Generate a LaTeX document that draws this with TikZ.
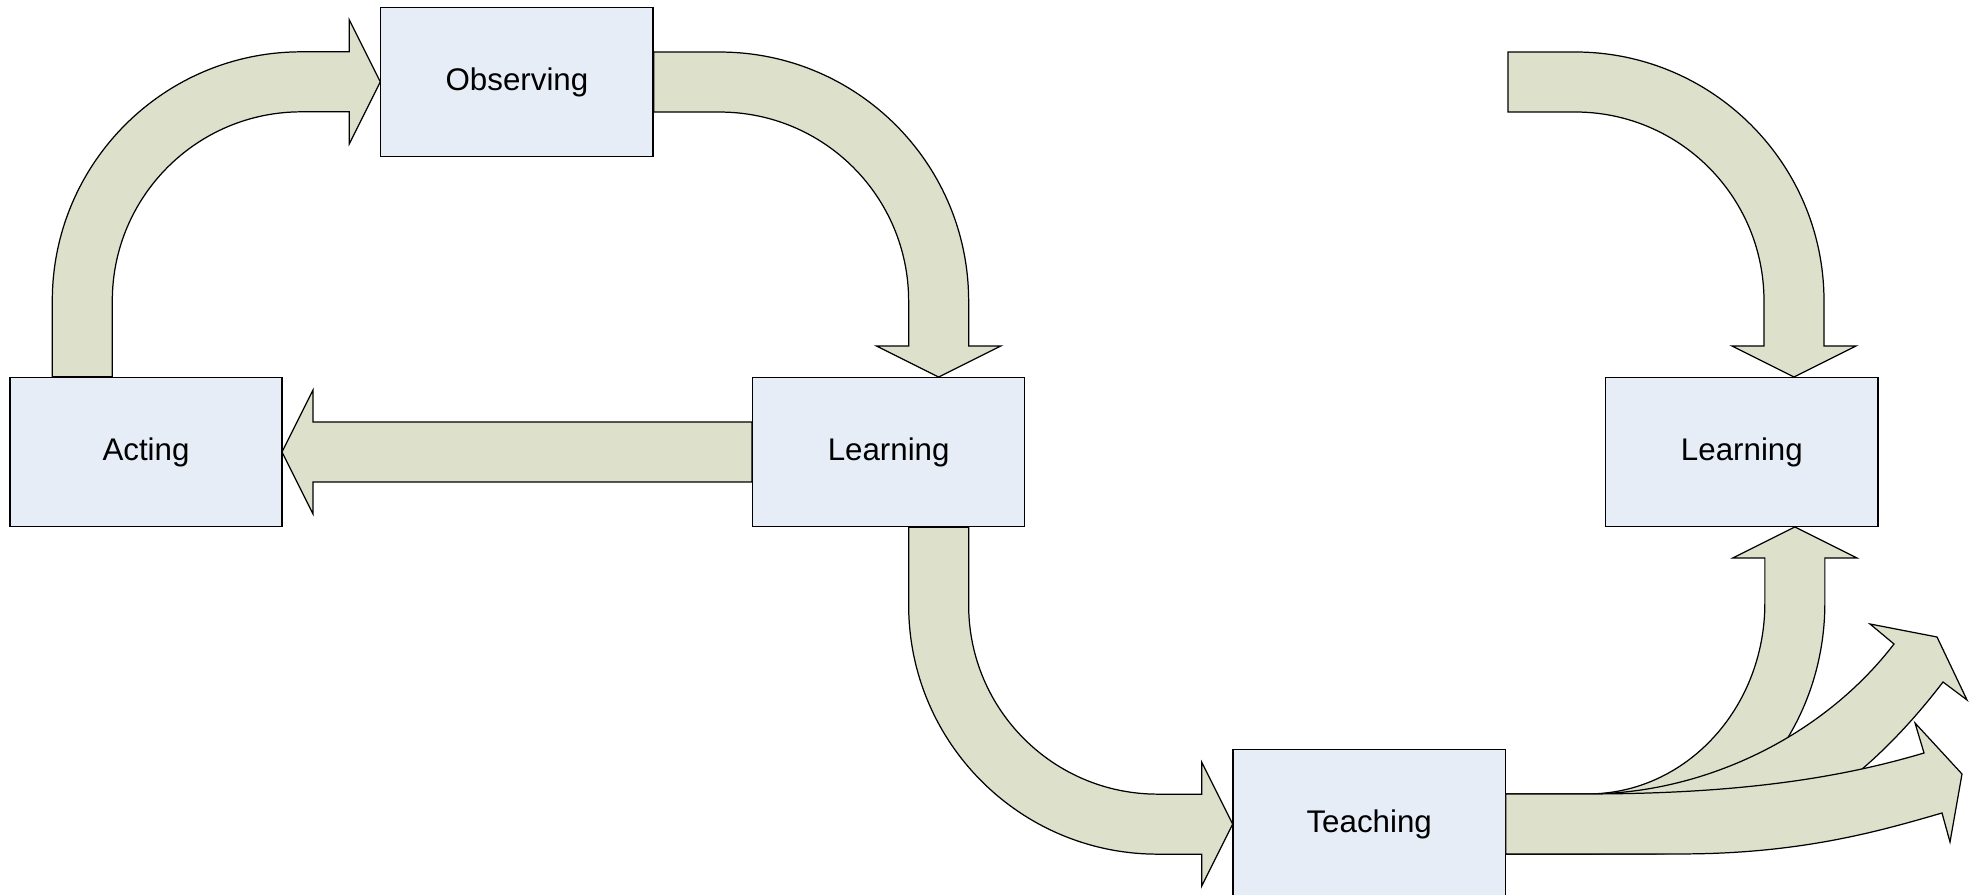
\documentclass[tikz,border=0pt]{standalone}
\usepackage{fontspec}
\setmainfont{Liberation Sans}
\usetikzlibrary{calc,positioning}
\definecolor{boxfill}{RGB}{230,237,247}
\definecolor{bandfill}{RGB}{221,225,203}

\begin{document}
\begin{tikzpicture}[
  x=0.01cm, y=-0.01cm,
  box/.style={draw, fill=boxfill, line width=0.35pt, minimum width=2.72cm, minimum height=1.49cm, inner sep=0pt, font=\fontsize{8.9}{10}\selectfont},
  band/.style={draw, fill=bandfill, line width=0.35pt, line join=miter}
]
\useasboundingbox (0,0) rectangle (1975,895);

\node[box] (acting) at (146,452) {Acting};
\node[box, above right=2.195cm and 0.975cm of acting] (observing) {Observing};
\node[box, right=4.69cm of acting] (learning) {Learning};
\node[box, right=5.795cm of learning] (learning2) {Learning};
\node[box, below right=2.215cm and 2.07cm of learning] (teaching) {Teaching};
\coordinate (feed) at (1508,52);
\coordinate (tipB) at (1937,637);
\coordinate (tipC) at (1962,774);

% the cycle
\draw[band] ($(acting.north west)+(43,0)$) -- ++(0,-76)
  .. controls +(0,-137.5) and +(-137.5,0) .. ++(249,-249)
  -- ++(48,0) -- ++(0,-32) -- ++(31,62) -- ++(-31,62) -- ++(0,-32) -- ++(-48,0)
  .. controls +(-104.4,0) and +(0,-104.4) .. ++(-189,189)
  -- ++(0,76) -- cycle;
\draw[band] ($(observing.east)+(0,-30)$) -- ++(66,0)
  .. controls +(137.5,0) and +(0,-137.5) .. ++(249,249)
  -- ++(0,45) -- ++(32,0) -- ++(-62,31) -- ++(-62,-31) -- ++(32,0) -- ++(0,-45)
  .. controls +(0,-104.4) and +(104.4,0) .. ++(-189,-189)
  -- ++(-66,0) -- cycle;
\draw[band] ($(learning.west)+(0,-30)$) -- ++(-439,0) -- ++(0,-32) -- ++(-31,62)
  -- ++(31,62) -- ++(0,-32) -- ++(439,0) -- cycle;
\draw[band] ($(learning.south)+(20,0)$) -- ++(0,78)
  .. controls +(0,137.5) and +(-137.5,0) .. ++(249,249)
  -- ++(44,0) -- ++(0,32) -- ++(31,-62) -- ++(-31,-62) -- ++(0,32) -- ++(-44,0)
  .. controls +(-104.4,0) and +(0,104.4) .. ++(-189,-189)
  -- ++(0,-78) -- cycle;

% right part
\draw[band] (feed) -- ++(67,0)
  .. controls +(137.5,0) and +(0,-137.5) .. ++(249,249)
  -- ++(0,45) -- ++(32,0) -- ++(-62,31) -- ++(-62,-31) -- ++(32,0) -- ++(0,-45)
  .. controls +(0,-104.4) and +(104.4,0) .. ++(-189,-189)
  -- ++(-67,0) -- cycle;
\draw[band] ($(teaching.east)+(0,-30)$) -- ++(82,0)
  .. controls +(97.8,0) and +(0,105.5) .. ++(177,-191)
  -- ++(0,-45) -- ++(-32,0) -- ++(62,-31) -- ++(62,31) -- ++(-32,0) -- ++(0,45)
  .. controls +(0,138.6) and +(130.9,0) .. ++(-237,251)
  -- ++(-82,0) -- cycle;
\draw[band] ($(teaching.east)+(0,-30)$) -- ++(82,0)
  .. controls +(113,0) and +(-73,95) .. ($(tipB)+(-43,7)$)
  -- ($(tipB)+(-67,-13)$) -- (tipB) -- ($(tipB)+(30,63)$) -- ($(tipB)+(6,45)$)
  .. controls +(-85,111) and +(110,0) .. ($(teaching.east)+(145,30)$)
  -- ($(teaching.east)+(0,30)$) -- cycle;
\draw[band] ($(teaching.east)+(0,-30)$) -- ++(82,0)
  .. controls +(163,0) and +(-74,22) .. ($(tipC)+(-38,-21)$)
  -- ($(tipC)+(-47,-51)$) -- (tipC) -- ($(tipC)+(-12,68)$) -- ($(tipC)+(-20,39)$)
  .. controls +(-62,18) and +(120,0) .. ($(teaching.east)+(175,30)$)
  -- ($(teaching.east)+(0,30)$) -- cycle;
\end{tikzpicture}
\end{document}
